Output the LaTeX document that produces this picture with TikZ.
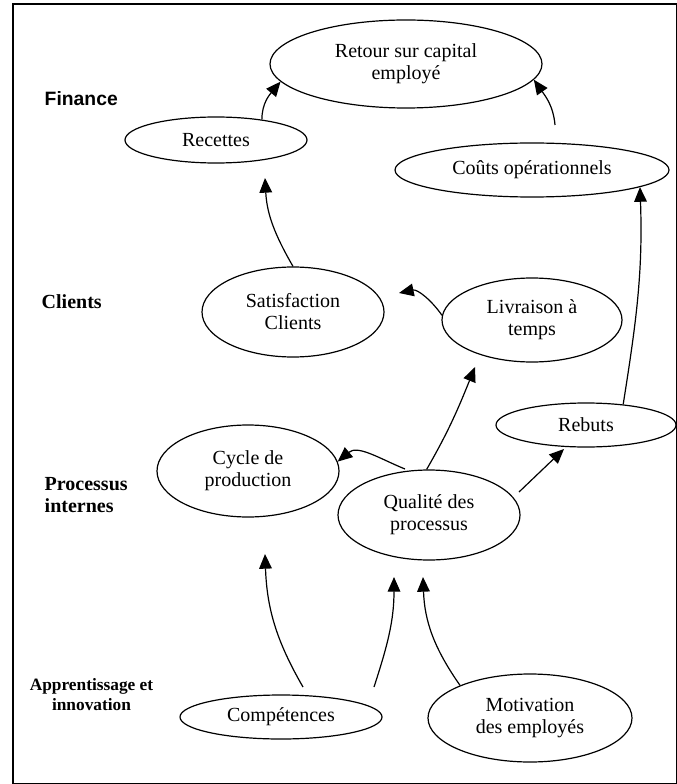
\documentclass[tikz,border=0pt]{standalone}
\usepackage{fontspec}
\setmainfont{Liberation Serif}
\newfontfamily\labsans{Liberation Sans}
\usetikzlibrary{shapes.geometric,arrows.meta}
\begin{document}
\begin{tikzpicture}[x=0.75pt,y=0.75pt,
  ell/.style n args={2}{ellipse,draw,line width=0.9pt,minimum width=#1*1.5pt,minimum height=#2*1.5pt,inner sep=0pt,align=center,font=\fontsize{15}{16.5}\selectfont},
  arr/.style={line width=0.9pt,-{Triangle[length=11pt,width=9.5pt]}},
  lab/.style={anchor=west,align=left,font=\fontsize{15}{16.5}\selectfont\bfseries}]
\useasboundingbox (0,0) rectangle (677,-784);
\draw[line width=1.1pt] (13,-783.3) -- (13,-4) -- (676.3,-4) -- (676.3,-783.3) -- cycle;
% nodes
\node[ell={136}{44}] (ret) at (406,-64) {Retour sur capital\\employé};
\node[ell={91}{23}] (rec) at (216,-140) {Recettes};
\node[ell={137}{27}] (cou) at (532,-170) {Coûts opérationnels};
\node[ell={91}{45}] (sat) at (293,-312) {Satisfaction\\Clients};
\node[ell={90}{42}] (liv) at (532,-320) {Livraison à\\temps};
\node[ell={90}{22}] (reb) at (586,-425) {Rebuts};
\node[ell={91}{46}] (cyc) at (248,-471) {Cycle de\\production};
\node[ell={91}{45}] (qua) at (429,-515) {Qualité des\\processus};
\node[ell={101}{22}] (com) at (281,-717) {Compétences};
\node[ell={102}{44}] (mot) at (530,-718) {Motivation\\des employés};
% row labels
\node[anchor=west,font=\labsans\fontsize{14.5}{16}\selectfont\bfseries] (fin) at (40,-99) {Finance};
\node[lab] (cli) at (37,-302) {Clients};
\node[lab] (pro) at (40,-495) {Processus\\internes};
\node[align=center,font=\fontsize{13}{15}\selectfont\bfseries] (app) at (91.5,-695) {Apprentissage et\\innovation};
% free ends
\coordinate (s2) at (555,-125);
\coordinate (t3) at (265,-178);
\coordinate (t4) at (399,-293);
\coordinate (t5) at (475,-367);
\coordinate (s6) at (405,-469);
\coordinate (s7) at (519,-492);
\coordinate (t7) at (564,-449);
\coordinate (s9) at (303,-687);
\coordinate (t9) at (265,-554);
\coordinate (s10) at (374,-687);
\coordinate (t10) at (394,-577);
\coordinate (t11) at (423,-577);
% connectors
\draw[arr] (rec.24) to[out=90,in=-130] (ret.188);
\draw[arr] (s2) to[out=95,in=-55] (ret.-7);
\draw[arr] (sat.north) to[out=120,in=-87] (t3);
\draw[arr] (liv.177) to[out=125,in=12] (t4);
\draw[arr] (qua.93) to[out=60,in=-112] (t5);
\draw[arr] (s6) to[out=158,in=40] (cyc.6);
\draw[arr] (s7) -- (t7);
\draw[arr] (reb.29) to[out=81,in=-88] (cou.-9);
\draw[arr] (s9) to[out=120,in=-88] (t9);
\draw[arr] (s10) to[out=72,in=-90] (t10);
\draw[arr] (mot.155) to[out=125,in=-88] (t11);
\end{tikzpicture}
\end{document}
